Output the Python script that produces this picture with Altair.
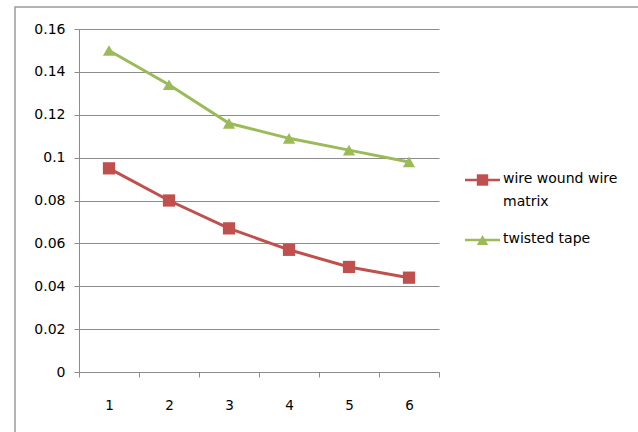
import altair as alt
import pandas as pd

# Chart values
steps = [1, 2, 3, 4, 5, 6]
wire_matrix = [0.095, 0.080, 0.067, 0.057, 0.049, 0.044]
twisted_tape = [0.150, 0.134, 0.116, 0.109, 0.1035, 0.098]
series_names = ["wire wound wire matrix", "twisted tape"]
legend_lines = [["wire wound wire", "matrix"], ["twisted tape"]]
series_colors = ["#C0504D", "#9BBB59"]
series_shapes = ["square", "triangle-up"]
y_ticks = [0, 0.02, 0.04, 0.06, 0.08, 0.10, 0.12, 0.14, 0.16]

df = pd.DataFrame({
    "step": steps + steps,
    "value": wire_matrix + twisted_tape,
    "series": [series_names[0]] * len(steps) + [series_names[1]] * len(steps),
})

FONT = "DejaVu Sans"
GRID = "#8c8c8c"
TEXT = "#000000"

x_enc = alt.X(
    "step:O",
    scale=alt.Scale(paddingInner=0, paddingOuter=0),
    axis=alt.Axis(title=None, labelAngle=0, tickBand="extent", grid=False,
                  domainColor=GRID, tickColor=GRID, tickSize=5,
                  labelPadding=21, labelFont=FONT, labelFontSize=13.5,
                  labelColor=TEXT),
)
y_enc = alt.Y(
    "value:Q",
    scale=alt.Scale(domain=[0, 0.16], nice=False),
    axis=alt.Axis(title=None, values=y_ticks, format="~g", grid=True,
                  gridColor=GRID, gridWidth=1, domainColor=GRID,
                  tickColor=GRID, tickSize=5, labelPadding=9,
                  labelFont=FONT, labelFontSize=14, labelColor=TEXT),
)

color_scale = alt.Scale(domain=series_names, range=series_colors)
shape_scale = alt.Scale(domain=series_names, range=series_shapes)

one = pd.DataFrame({"k": [0]})

# outer chart-area border
frame = alt.Chart(one).mark_rect(
    fill=None, stroke="#9a9a9a", strokeWidth=1.5
).encode(x=alt.value(-64), x2=alt.value(570), y=alt.value(-22), y2=alt.value(410))

lines = alt.Chart(df).mark_line(strokeWidth=3).encode(
    x=x_enc, y=y_enc,
    color=alt.Color("series:N", scale=color_scale, legend=None),
)

points = alt.Chart(df).mark_point(filled=True, size=150, opacity=1).encode(
    x=x_enc, y=y_enc,
    color=alt.Color("series:N", scale=color_scale, legend=None),
    shape=alt.Shape("series:N", scale=shape_scale, legend=None),
)

# legend entries: line sample with marker, followed by the label
legend_layers = []
entry_y = [151, 211]
for name_lines, color, shape, yc in zip(legend_lines, series_colors, series_shapes, entry_y):
    legend_layers.append(
        alt.Chart(one).mark_rule(color=color, strokeWidth=2.5).encode(
            x=alt.value(386), x2=alt.value(421), y=alt.value(yc))
    )
    legend_layers.append(
        alt.Chart(one).mark_point(filled=True, opacity=1, color=color, shape=shape, size=130).encode(
            x=alt.value(403.5), y=alt.value(yc))
    )
    legend_layers.append(
        alt.Chart(one).mark_text(
            align="left", baseline="top", font=FONT, fontSize=14, color=TEXT, lineHeight=23
        ).encode(x=alt.value(424), y=alt.value(yc - 8), text=alt.value(name_lines))
    )

chart = alt.layer(frame, lines, points, *legend_layers).properties(
    width=360, height=343,
    autosize=alt.AutoSizeParams(type="none"),
    padding={"left": 79, "top": 29, "right": 199, "bottom": 60},
    background="white",
).configure_view(stroke=None)

chart.save("out.html", embed_options={"renderer": "svg", "actions": False})
